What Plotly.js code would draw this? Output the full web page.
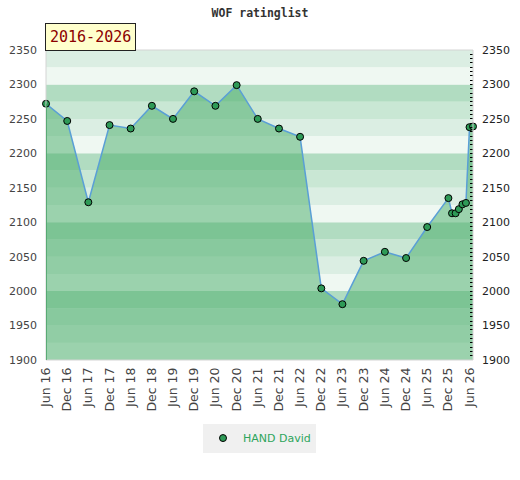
<!DOCTYPE html>
<html>
<head>
<meta charset="utf-8">
<script src="https://cdn.plot.ly/plotly-3.0.1.min.js"></script>
<style>
html,body{margin:0;padding:0;background:#fff;}
#chart{width:520px;height:480px;}
</style>
</head>
<body>
<div id="chart"></div>
<script>
// ---- data ----
var dates = ["2016-06-01","2016-12-01","2017-06-01","2017-12-01","2018-06-01","2018-12-01",
             "2019-06-01","2019-12-01","2020-06-01","2020-12-01","2021-06-01","2021-12-01",
             "2022-06-01","2022-12-01","2023-06-01","2023-12-01","2024-06-01","2024-12-01",
             "2025-06-01","2025-12-01","2026-01-01","2026-02-01","2026-03-01","2026-04-01",
             "2026-05-01","2026-06-01","2026-07-01"];
var ratings = [2272,2247,2129,2241,2236,2269,
               2250,2290,2269,2299,2250,2236,
               2224,2004,1981,2044,2057,2048,
               2093,2135,2113,2113,2119,2126,
               2128,2238,2239];
var tickDates = ["2016-06-01","2016-12-01","2017-06-01","2017-12-01","2018-06-01","2018-12-01",
                 "2019-06-01","2019-12-01","2020-06-01","2020-12-01","2021-06-01","2021-12-01",
                 "2022-06-01","2022-12-01","2023-06-01","2023-12-01","2024-06-01","2024-12-01",
                 "2025-06-01","2025-12-01","2026-06-01"];
var tickLabels = ["Jun 16","Dec 16","Jun 17","Dec 17","Jun 18","Dec 18","Jun 19","Dec 19",
                  "Jun 20","Dec 20","Jun 21","Dec 21","Jun 22","Dec 22","Jun 23","Dec 23",
                  "Jun 24","Dec 24","Jun 25","Dec 25","Jun 26"];
var yTicks = [1900,1950,2000,2050,2100,2150,2200,2250,2300,2350];
var playerName = "HAND David";
var periodLabel = "2016-2026";
var chartTitle = "WOF ratinglist";

// ---- style ----
var yMin = 1900, yMax = 2350;
var bandColors = {75:"#b1dcc1", 50:"#c9e7d4", 25:"#dbeee3", 0:"#eff8f2"};
var shapes = [];
for (var lo = yMin; lo < yMax; lo += 25) {
  shapes.push({type:"rect", xref:"paper", yref:"y", x0:0, x1:1, y0:lo, y1:lo+25,
               fillcolor: bandColors[lo % 100], line:{width:0}, layer:"below"});
}
// plot frame
shapes.push({type:"rect", xref:"paper", yref:"paper", x0:0, x1:1, y0:0, y1:1,
             line:{color:"#d4d4d4", width:1}, fillcolor:"rgba(0,0,0,0)", layer:"above"});
// left edge of the filled area
shapes.push({type:"line", xref:"x", yref:"y", x0:dates[0], x1:dates[0], y0:yMin, y1:ratings[0],
             line:{color:"#3d9e5e", width:1.5}, layer:"above"});

var fillTrace = {
  x: dates, y: ratings, type:"scatter", mode:"lines",
  fill:"tozeroy", fillcolor:"rgba(71,172,103,0.5)",
  line:{color:"#5a9fd6", width:1.5},
  showlegend:false, hoverinfo:"skip"
};
var markerTrace = {
  x: dates, y: ratings, type:"scatter", mode:"markers", name: playerName,
  cliponaxis:false,
  marker:{color:"#2e9a57", size:7, line:{color:"#000", width:1}}
};
var rightTrace = {
  x: [dates[0]], y: [ratings[0]], yaxis:"y2", type:"scatter", mode:"markers",
  marker:{opacity:0}, showlegend:false, hoverinfo:"skip"
};

var layout = {
  width:520, height:480,
  margin:{l:46, r:47, t:50, b:120},
  paper_bgcolor:"#fff", plot_bgcolor:"#fff",
  title:{text:chartTitle, x:0.5, xanchor:"center", y:0.972, yanchor:"middle",
         font:{family:"DejaVu Sans Mono", size:11.5, color:"#333", weight:"bold"}},
  xaxis:{type:"date", range:["2016-06-01","2026-07-01"], tickvals:tickDates, ticktext:tickLabels,
         tickangle:-90, showgrid:false, zeroline:false, showline:false, ticks:"",
         tickfont:{family:"DejaVu Sans", size:12.5, color:"#444"}, ticklabelstandoff:4, fixedrange:true},
  yaxis:{range:[yMin,yMax], tickvals:yTicks, showgrid:false, zeroline:false, showline:false,
         ticks:"", tickfont:{family:"DejaVu Sans", size:11, color:"#444"}, ticklabelstandoff:8},
  yaxis2:{range:[yMin,yMax], overlaying:"y", side:"right", tickvals:yTicks, showgrid:false,
          zeroline:false, showline:false, ticks:"inside", ticklen:3, tickcolor:"#000",
          minor:{dtick:6.25, ticks:"inside", ticklen:3, tickcolor:"#000"},
          tickfont:{family:"DejaVu Sans", size:11, color:"#222"}, ticklabelstandoff:8},
  shapes: shapes,
  annotations:[{xref:"paper", yref:"paper", x:0, y:1, xanchor:"left", yanchor:"bottom",
                text:periodLabel, showarrow:false, bgcolor:"#ffffcc", bordercolor:"#222",
                borderwidth:1, borderpad:4, xshift:-1, yshift:-1,
                font:{family:"DejaVu Sans Mono", size:15, color:"#8b0000"}}],
  legend:{orientation:"h", x:0.5, xanchor:"center", y:-0.205, yanchor:"top", itemwidth:30,
          bgcolor:"#f0f0f0", font:{family:"DejaVu Sans", size:11, color:"#2ea55c"}},
  showlegend:true
};

Plotly.newPlot("chart", [fillTrace, markerTrace, rightTrace], layout, {staticPlot:true});
</script>
</body>
</html>
